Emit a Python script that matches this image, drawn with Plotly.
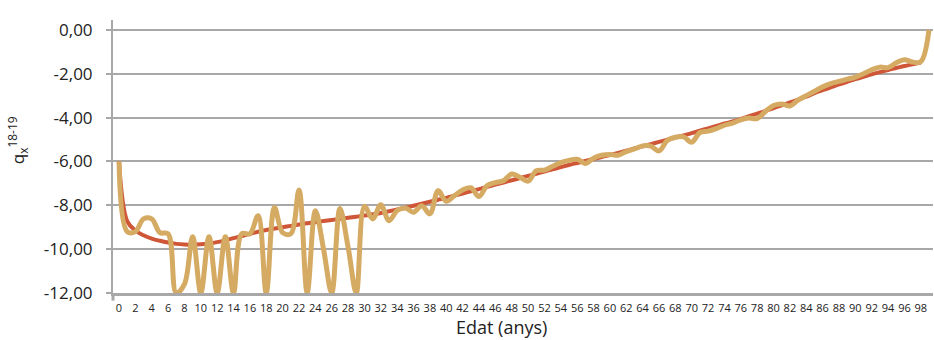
import plotly.graph_objects as go

# Ages (categories)
ages = list(range(100))
xtick_vals = list(range(0, 99, 2))
xtick_text = [str(v) for v in xtick_vals]

ytick_vals = [0, -2, -4, -6, -8, -10, -12]
ytick_text = ["0,00", "-2,00", "-4,00", "-6,00", "-8,00", "-10,00", "-12,00"]

# Fitted (smooth) log q_x
fitted = [
    -6.00, -8.72, -9.15, -9.37, -9.52, -9.62, -9.70, -9.76, -9.79, -9.80,
    -9.78, -9.74, -9.68, -9.60, -9.50, -9.40, -9.30, -9.21, -9.13, -9.06,
    -9.00, -8.94, -8.88, -8.82, -8.77, -8.72, -8.67, -8.62, -8.57, -8.52,
    -8.47, -8.41, -8.35, -8.27, -8.19, -8.11, -8.02, -7.93, -7.84, -7.75,
    -7.66, -7.56, -7.46, -7.36, -7.26, -7.16, -7.06, -6.96, -6.86, -6.76,
    -6.66, -6.56, -6.46, -6.36, -6.26, -6.16, -6.07, -5.98, -5.89, -5.80,
    -5.71, -5.61, -5.51, -5.41, -5.31, -5.21, -5.11, -5.01, -4.91, -4.81,
    -4.71, -4.60, -4.49, -4.38, -4.27, -4.18, -4.06, -3.94, -3.82, -3.70,
    -3.57, -3.44, -3.31, -3.18, -3.05, -2.88, -2.75, -2.62, -2.49, -2.37,
    -2.25, -2.14, -2.03, -1.93, -1.83, -1.74, -1.65, -1.57, -1.49, None,
]

# Observed log q_x (bottom values are at the axis floor)
observed = [
    -6.00, -9.20, -9.20, -8.62, -8.62, -9.25, -9.30, -12.0, -11.6, -9.43,
    -12.0, -9.43, -12.0, -9.43, -12.0, -9.30, -9.30, -8.48, -12.0, -8.10,
    -9.25, -9.30, -7.30, -12.0, -8.25, -10.0, -12.0, -8.15, -9.90, -12.0,
    -8.05, -8.62, -7.98, -8.70, -8.24, -8.12, -8.32, -8.02, -8.39, -7.33,
    -7.82, -7.56, -7.30, -7.20, -7.60, -7.10, -6.97, -6.88, -6.57, -6.72,
    -6.90, -6.42, -6.40, -6.22, -6.05, -5.95, -5.90, -6.09, -5.85, -5.72,
    -5.68, -5.72, -5.55, -5.43, -5.29, -5.30, -5.52, -5.05, -4.90, -4.88,
    -5.12, -4.68, -4.62, -4.50, -4.35, -4.25, -4.10, -4.02, -4.05, -3.72,
    -3.45, -3.38, -3.47, -3.20, -3.00, -2.80, -2.60, -2.45, -2.35, -2.25,
    -2.15, -2.00, -1.82, -1.70, -1.72, -1.50, -1.36, -1.47, -1.45, 0.00,
]

GRID = "#a8a8a8"
FONT = "Open Sans"

fig = go.Figure()
fig.add_trace(go.Scatter(
    x=ages, y=fitted, mode="lines",
    line=dict(color="#CF5637", width=4, shape="spline", smoothing=1),
    hoverinfo="skip",
))
fig.add_trace(go.Scatter(
    x=ages, y=observed, mode="lines",
    line=dict(color="#D5AA62", width=5, shape="spline", smoothing=1),
    hoverinfo="skip",
))

fig.update_layout(
    width=934, height=340,
    margin=dict(l=113, r=1, t=20, b=47),
    paper_bgcolor="white", plot_bgcolor="white",
    showlegend=False,
    font=dict(family=FONT, color="#222222"),
    xaxis=dict(
        range=[-0.733, 99.49],
        tickmode="array", tickvals=xtick_vals, ticktext=xtick_text,
        tickangle=0, tickfont=dict(size=11, family=FONT, color="#222222"),
        showgrid=False, zeroline=False,
        showline=True, linecolor=GRID, linewidth=3,
        ticks="", ticklabelstandoff=3,
    ),
    yaxis=dict(
        range=[-12, 0.45],
        tickmode="array", tickvals=ytick_vals, ticktext=ytick_text,
        tickfont=dict(size=17, family=FONT, color="#222222"),
        showgrid=True, gridcolor=GRID, gridwidth=1.5,
        zeroline=False,
        showline=True, linecolor=GRID, linewidth=2,
        ticks="outside", ticklen=5, tickcolor=GRID, tickwidth=1.5,
        ticklabelstandoff=10,
    ),
    annotations=[
        dict(text="q<sub>x</sub><sup>18-19</sup>", textangle=-90,
             xref="paper", yref="paper", x=-0.117, y=0.56,
             xanchor="center", yanchor="middle", showarrow=False,
             font=dict(size=17, family=FONT, color="#222222")),
        dict(text="Edat (anys)",
             xref="paper", yref="paper", x=0.474, y=-0.124,
             xanchor="center", yanchor="middle", showarrow=False,
             font=dict(size=18, family=FONT, color="#222222")),
    ],
    shapes=[
        dict(type="line", xref="paper", yref="paper", x0=0, x1=0, y0=0, y1=-0.028,
             line=dict(color=GRID, width=3)),
    ],
)

fig.write_html(
    "out.html",
    config={"displayModeBar": False},
    post_script="document.body.style.margin='0';document.body.style.overflow='hidden';",
)
